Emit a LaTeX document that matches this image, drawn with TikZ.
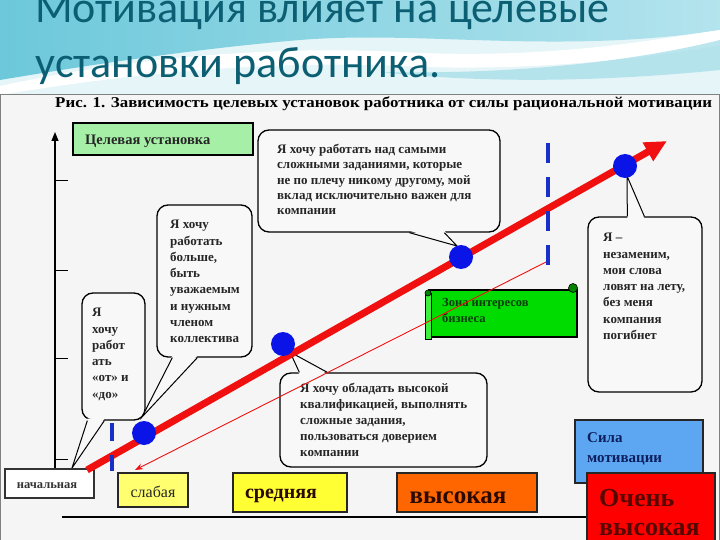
\documentclass[tikz,border=0pt]{standalone}
\usepackage{graphicx}
\usepackage{fontspec}
\setmainfont{Liberation Serif}
\newfontfamily\titlefont{Carlito}
\usetikzlibrary{arrows.meta,calc}
\definecolor{titlecol}{HTML}{0C5F72}
\definecolor{cyanA}{HTML}{6CC8DA}
\definecolor{cyanB}{HTML}{B4E4EE}
\definecolor{cyanC}{HTML}{9FDCE8}
\definecolor{topbg}{HTML}{E6F5F8}
\definecolor{diagbg}{HTML}{F5F5F5}
\definecolor{bubfill}{HTML}{F8F8F8}
\definecolor{targetgreen}{HTML}{A6EFA6}
\definecolor{zonegreen}{HTML}{00DC00}
\definecolor{zonelight}{HTML}{40F040}
\definecolor{zonetext}{HTML}{0B3B0B}
\definecolor{dotblue}{HTML}{0A14E6}
\definecolor{dashblue}{HTML}{1830C8}
\definecolor{arrowred}{HTML}{F01010}
\definecolor{weakyellow}{HTML}{FFFF70}
\definecolor{midyellow}{HTML}{FFFF33}
\definecolor{highorange}{HTML}{FF6600}
\definecolor{topred}{HTML}{FF0000}
\definecolor{forceblue}{HTML}{5DA7F2}
\definecolor{forcetext}{HTML}{0E1E5E}
\definecolor{darktext}{HTML}{2A0A00}
\begin{document}
\begin{tikzpicture}[x=1pt,y=-1pt,
  bubble/.style={draw=black, line width=1.3pt, fill=bubfill, rounded corners=11pt, inner sep=0pt},
  bubtail/.style={draw=black, line width=1pt},
  bubtext/.style={anchor=north west, inner sep=0pt, align=left, text=black!85,
    font=\fontsize{13}{16.3}\selectfont\bfseries},
  levelbox/.style={draw=black!85, line width=1.2pt, inner sep=0pt},
  bluedot/.style={circle, fill=dotblue, minimum size=24pt, inner sep=0pt},
  axtick/.style={line width=1pt},
  boxtext/.style={anchor=base, inner sep=0pt},
]
\useasboundingbox (0,0) rectangle (720,540);
% ---------- slide background ----------
\fill[white] (0,0) rectangle (720,540);
\fill[topbg] (0,0) rectangle (720,95);
\shade[left color=cyanA, right color=cyanB] (0,0) -- (720,0) -- (720,30)
  .. controls (560,55) and (420,30) .. (300,40) .. controls (180,50) and (60,70) .. (0,80) -- cycle;
\fill[white] (0,86) .. controls (120,60) and (260,45) .. (400,52) .. controls (550,60) and (650,40) .. (720,30)
  -- (720,45) .. controls (640,60) and (520,72) .. (400,66) .. controls (260,60) and (120,75) .. (0,95) -- cycle;
\fill[cyanC, opacity=0.7] (380,72) .. controls (520,75) and (640,60) .. (720,40) -- (720,70)
  .. controls (620,80) and (500,85) .. (380,72) -- cycle;
\node[anchor=base west, inner sep=0pt, text=titlecol, font=\titlefont\fontsize{44}{44}\selectfont] (title1) at (35,23) {Мотивация влияет на целевые};
\node[anchor=base west, inner sep=0pt, text=titlecol, font=\titlefont\fontsize{44}{44}\selectfont] (title2) at (35,78) {установки работника.};
% ---------- diagram area ----------
\fill[diagbg] (0,94) rectangle (720,540);
\draw[black!50, line width=0.8pt] (0.5,540) -- (0.5,94) -- (719.5,94) -- (719.5,540);
\node[anchor=west, inner sep=0pt] (caption) at (55,104)
  {\resizebox{657pt}{\height}{\fontsize{15}{15}\selectfont\bfseries Рис. 1. Зависимость целевых установок работника от силы рациональной мотивации}};
% axes
\draw[line width=1.2pt, -{Triangle[length=9pt,width=7pt]}] (55,472) -- (55,132);
\foreach \yy in {181,270,358,459} \draw[axtick] (55,\yy) -- (68,\yy);
\draw[line width=2pt] (62,517) -- (590,517);
% target box
\node[levelbox, draw=black, fill=targetgreen, minimum width=180pt, minimum height=32pt] (target) at (163,139) {};
\node[anchor=base west, inner sep=0pt, font=\fontsize{14.5}{14.5}\selectfont\bfseries, text=black!85] (targett) at (85,145) {Целевая установка};
% ---------- bubbles ----------
\node[bubble, minimum width=63pt, minimum height=127pt] (bA) at (113.5,356.5) {};
\node[bubble, minimum width=95pt, minimum height=152pt] (bB) at (204.5,281) {};
\node[bubble, minimum width=242pt, minimum height=102pt] (bC) at (379,181) {};
\node[bubble, minimum width=207pt, minimum height=94pt] (bD) at (383.5,420) {};
\node[bubble, minimum width=114pt, minimum height=175pt] (bE) at (645,304.5) {};
% tail tips
\coordinate (tipA) at (72,468);
\coordinate (tipB) at (142,417);
\coordinate (tipC) at (457,246);
\coordinate (tipD) at (290,352);
\coordinate (tipE) at (627,176);
% tails
\fill[bubfill] ($(bA.south west)+(6,-2)$) -- (tipA) -- ($(bA.south west)+(23,-2)$) -- cycle;
\draw[bubtail] ($(bA.south west)+(6,0)$) -- (tipA) -- ($(bA.south west)+(23,0)$);
\fill[bubfill] ($(bB.south west)+(16,-2)$) -- (tipB) -- ($(bB.south west)+(41,-2)$) -- cycle;
\draw[bubtail] ($(bB.south west)+(16,0)$) -- (tipB) -- ($(bB.south west)+(41,0)$);
\fill[bubfill] ($(bC.south west)+(152,-2)$) -- (tipC) -- ($(bC.south west)+(187,-2)$) -- cycle;
\draw[bubtail] ($(bC.south west)+(152,0)$) -- (tipC) -- ($(bC.south west)+(187,0)$);
\fill[bubfill] ($(bD.north west)+(20,2)$) -- (tipD) -- ($(bD.north west)+(48,2)$) -- cycle;
\draw[bubtail] ($(bD.north west)+(20,0)$) -- (tipD) -- ($(bD.north west)+(48,0)$);
\fill[bubfill] ($(bE.north west)+(40,2)$) -- (tipE) -- ($(bE.north west)+(57,2)$) -- cycle;
\draw[bubtail] ($(bE.north west)+(40,0)$) -- (tipE) -- ($(bE.north west)+(57,0)$);
% bubble texts
\node[bubtext] (tA) at (92,308) {Я\\хочу\\работ\\ать\\«от» и\\«до»};
\node[bubtext] (tB) at (170,220) {Я хочу\\работать\\больше,\\быть\\уважаемым\\и нужным\\членом\\коллектива};
\node[bubtext, font=\fontsize{13}{15.3}\selectfont\bfseries] (tC) at (277,144) {Я хочу работать над самыми\\сложными заданиями, которые\\не по плечу никому другому, мой\\вклад исключительно важен для\\компании};
\node[bubtext, font=\fontsize{13}{16}\selectfont\bfseries] (tD) at (300,383) {Я хочу обладать высокой\\квалификацией, выполнять\\сложные задания,\\пользоваться доверием\\компании};
\node[bubtext] (tE) at (603,233) {Я –\\незаменим,\\мои слова\\ловят на лету,\\без меня\\компания\\погибнет};
% ---------- business zone scroll ----------
\node[draw=black, line width=1.1pt, fill=zonegreen, minimum width=148pt, minimum height=47pt, inner sep=0pt] (zone) at (503,313.5) {};
\filldraw[fill=zonelight, draw=black, line width=0.8pt] (425,293) rectangle (431,339);
\filldraw[fill=zonegreen!60!black, draw=black, line width=0.6pt] (573,288) circle (4.5);
\filldraw[fill=zonegreen!60!black, draw=black, line width=0.6pt] (428,293) circle (3);
\node[anchor=north west, inner sep=0pt, align=left, text=zonetext, font=\fontsize{12.5}{16}\selectfont\bfseries] (zonet) at (442,298) {Зона интересов\\бизнеса};
% ---------- level boxes ----------
\node[levelbox, draw=black!80, line width=1.6pt, fill=white, minimum width=89pt, minimum height=29pt] (lv0) at (49.5,483.5) {};
\node[boxtext, font=\fontsize{12.5}{12.5}\selectfont\bfseries, text=black!80] (lv0t) at (47,488) {начальная};
\node[levelbox, fill=weakyellow, minimum width=70pt, minimum height=34pt] (lv1) at (153,490) {};
\node[boxtext, font=\fontsize{16}{16}\selectfont, text=black!85] (lv1t) at (153,497) {слабая};
\node[levelbox, fill=midyellow, minimum width=114pt, minimum height=39pt] (lv2) at (290,492.5) {};
\node[boxtext, font=\fontsize{20}{20}\selectfont\bfseries, text=darktext] (lv2t) at (281,498) {средняя};
\node[levelbox, fill=highorange, minimum width=140pt, minimum height=39pt] (lv3) at (467,492.5) {};
\node[boxtext, font=\fontsize{25}{25}\selectfont\bfseries, text=darktext] (lv3t) at (458,503) {высокая};
\node[levelbox, fill=forceblue, minimum width=128pt, minimum height=63pt] (force) at (639,451.5) {};
\node[anchor=north west, inner sep=0pt, align=left, text=forcetext, font=\fontsize{15}{20}\selectfont\bfseries] (forcet) at (587,432) {Сила\\мотивации};
\node[levelbox, fill=topred, minimum width=128pt, minimum height=72pt] (lv4) at (651,509) {};
\node[anchor=north west, inner sep=0pt, align=left, text=darktext!80!red, font=\fontsize{26}{29}\selectfont\bfseries] (lv4t) at (599,489) {Очень\\высокая};
% ---------- arrows ----------
\coordinate (thinS) at (550,260);
\coordinate (thinE) at (135,470);
\draw[arrowred, line width=0.9pt, -{Stealth[length=8pt,width=6pt]}] (thinS) -- (thinE);
\coordinate (redS) at (87,470);
\coordinate (redE) at (667,141);
\draw[arrowred, line width=7pt, -{Triangle[length=22pt,width=20pt]}] (redS) -- (redE);
\node[bluedot] (d1) at (144,433) {};
\node[bluedot] (d2) at (283,344) {};
\node[bluedot] (d3) at (461,257) {};
\node[bluedot] (d4) at (625,166) {};
% blue dashed borders
\draw[dashblue, line width=4pt, dash pattern=on 18pt off 14pt] (112,423) -- (112,471);
\draw[dashblue, line width=4pt, dash pattern=on 20pt off 14pt] (548,143) -- (548,266);
\end{tikzpicture}
\end{document}
